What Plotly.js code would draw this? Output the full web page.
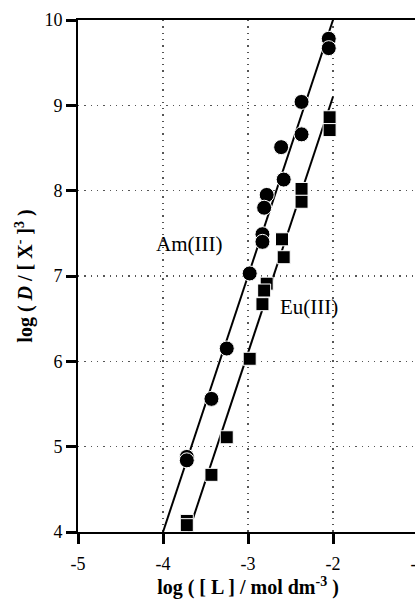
<!DOCTYPE html>
<html>
<head>
<meta charset="utf-8">
<script src="https://cdn.plot.ly/plotly-3.0.1.min.js"></script>
<style>
html,body{margin:0;padding:0;overflow:hidden;background:#fff;width:415px;height:599px;}
#chart{width:418px;height:599px;}
</style>
</head>
<body>
<div id="chart"></div>
<script>
// Am(III) data (circles)
var amX = [-2.05, -2.05, -2.37, -2.37, -2.61, -2.58, -2.78, -2.81, -2.83, -2.83, -2.98, -3.25, -3.43, -3.72, -3.72];
var amY = [9.78, 9.67, 9.04, 8.66, 8.51, 8.13, 7.95, 7.80, 7.49, 7.40, 7.03, 6.15, 5.56, 4.88, 4.84];
// Eu(III) data (squares)
var euX = [-2.04, -2.04, -2.37, -2.37, -2.6, -2.58, -2.78, -2.81, -2.83, -2.98, -3.25, -3.43, -3.72, -3.72];
var euY = [8.86, 8.71, 8.02, 7.87, 7.43, 7.22, 6.91, 6.83, 6.67, 6.03, 5.11, 4.67, 4.13, 4.08];
// fitted lines (slope 3)
var amLineX = [-4.0, -2.0];
var amLineY = [4.0, 10.0];
var euLineX = [-3.7, -2.0];
var euLineY = [4.0, 9.1];
// labels
var labelText = ["Am(III)", "Eu(III)"];
var labelX = [-3.70, -2.28];
var labelY = [7.38, 6.64];
var xTicks = [-5, -4, -3, -2, -1];
var yTicks = [4, 5, 6, 7, 8, 9, 10];

var font = "'Liberation Serif', 'Times New Roman', Times, serif";

var traces = [
  {x: amLineX, y: amLineY, mode: 'lines', line: {color: '#000', width: 2}, hoverinfo: 'skip'},
  {x: euLineX, y: euLineY, mode: 'lines', line: {color: '#000', width: 2}, hoverinfo: 'skip'},
  {x: amX, y: amY, mode: 'markers', marker: {symbol: 'circle', size: 15, color: '#000', line: {color: '#fff', width: 1}}},
  {x: euX, y: euY, mode: 'markers', marker: {symbol: 'square', size: 13, color: '#000', line: {color: '#fff', width: 1}}}
];

var annotations = labelText.map(function(t, i){
  return {x: labelX[i], y: labelY[i], xref: 'x', yref: 'y', text: t, showarrow: false,
          font: {family: font, size: 21, color: '#000'}};
});

var layout = {
  width: 418, height: 599,
  margin: {l: 78, r: 0, t: 20, b: 67},
  showlegend: false,
  paper_bgcolor: '#fff', plot_bgcolor: '#fff',
  font: {family: font, size: 18, color: '#000'},
  xaxis: {
    range: [-5, -1], tickvals: xTicks, ticktext: xTicks.map(String),
    ticks: 'outside', ticklen: 10, tickwidth: 3, tickcolor: '#000',
    ticklabelstandoff: 4, ticklabeloverflow: 'allow',
    showline: true, linecolor: '#000', linewidth: 2, mirror: true,
    showgrid: true, gridcolor: '#555', gridwidth: 1.3, griddash: '1.3px,5px',
    zeroline: false, automargin: false,
    tickfont: {family: font, size: 18},
    title: {text: '<b>log ( [ L ] / mol dm<sup>-3</sup> )</b>', font: {family: font, size: 20}, standoff: 13}
  },
  yaxis: {
    range: [4, 10], tickvals: yTicks, ticktext: yTicks.map(String),
    ticks: 'outside', ticklen: 10, tickwidth: 3, tickcolor: '#000',
    showline: true, linecolor: '#000', linewidth: 2, mirror: true,
    showgrid: true, gridcolor: '#555', gridwidth: 1.3, griddash: '1.3px,5px',
    zeroline: false, automargin: false,
    tickfont: {family: font, size: 18},
    title: {text: '<b>log ( <i>D</i> / [ X<sup>-</sup> ]<sup>3</sup> )</b>', font: {family: font, size: 20}, standoff: 6}
  },
  annotations: annotations
};

Plotly.newPlot('chart', traces, layout, {staticPlot: true, displayModeBar: false});
</script>
</body>
</html>
